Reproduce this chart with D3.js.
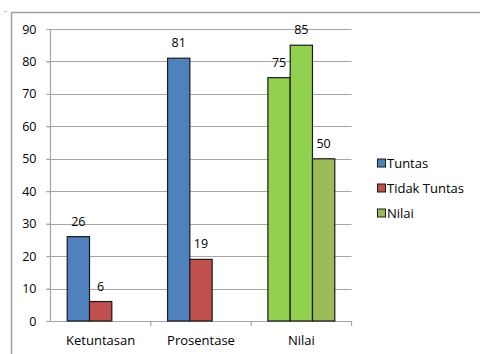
<!DOCTYPE html>
<html>
<head>
<meta charset="utf-8">
<script src="https://cdn.jsdelivr.net/npm/d3@7"></script>
<style>
  html, body { margin: 0; padding: 0; background: #fff; }
  svg { display: block; }
  text { font-family: "Open Sans", "Noto Sans", sans-serif; fill: #000; }
</style>
</head>
<body>
<svg id="chart" width="480" height="354"></svg>
<script>
// Categories and series
const categories = ["Ketuntasan", "Prosentase", "Nilai"];
const seriesNames = ["Tuntas", "Tidak Tuntas", "Nilai"];
const tuntas = [26, 81, 75];
const tidakTuntas = [6, 19, 85];
const nilai = [null, null, 50];
const yTicks = [0, 10, 20, 30, 40, 50, 60, 70, 80, 90];

const seriesValues = [tuntas, tidakTuntas, nilai];
const seriesColors = ["#4f81bd", "#c0504d", "#9bbb59"];
// Bars in the "Nilai" category are filled in bright green
const pointOverride = { "Nilai": { "Tuntas": "#92d050", "Tidak Tuntas": "#92d050" } };

const svg = d3.select("#chart");

// Outer chart frame (top and left edges visible)
svg.append("line").attr("x1", 11).attr("x2", 480).attr("y1", 12.5).attr("y2", 12.5)
  .attr("stroke", "#a0a0a0").attr("stroke-width", 1.5);
svg.append("line").attr("x1", 11.5).attr("x2", 11.5).attr("y1", 12).attr("y2", 354)
  .attr("stroke", "#a0a0a0").attr("stroke-width", 1.5);
svg.append("rect").attr("x", 4).attr("y", 11).attr("width", 3).attr("height", 1).attr("fill", "#bbb");

const plot = { left: 50.5, right: 351.5, top: 29, bottom: 321 };

const y = d3.scaleLinear().domain([0, 90]).range([plot.bottom, plot.top]);
const x0 = d3.scaleBand().domain(categories).range([plot.left, plot.right]).paddingInner(0).paddingOuter(0);
const x1 = d3.scaleBand().domain(seriesNames).range([0, x0.bandwidth()]).paddingInner(0).paddingOuter(0.75);

// Gridlines
svg.append("g").selectAll("line").data(yTicks.filter(d => d > 0)).join("line")
  .attr("x1", plot.left - 4).attr("x2", plot.right)
  .attr("y1", d => Math.round(y(d)) + 0.5).attr("y2", d => Math.round(y(d)) + 0.5)
  .attr("stroke", "#a6a6a6").attr("stroke-width", 1.2);

// Y axis
const yAxis = d3.axisLeft(y).tickValues(yTicks).tickSize(4).tickPadding(10);
const gy = svg.append("g").attr("transform", `translate(${plot.left},0)`).call(yAxis);
gy.select(".domain").attr("stroke", "#a6a6a6").attr("stroke-width", 1.2).attr("d", `M-0,${plot.top}V${plot.bottom}`);
gy.selectAll(".tick line").attr("stroke", "#a6a6a6").attr("stroke-width", 1.2);
gy.selectAll(".tick text").style("font-family", "'Open Sans', sans-serif").style("font-size", "12.5px").attr("fill", "#000");

// X axis with ticks at category boundaries
const gx = svg.append("g");
gx.append("line").attr("x1", plot.left - 4).attr("x2", plot.right)
  .attr("y1", plot.bottom + 0.5).attr("y2", plot.bottom + 0.5)
  .attr("stroke", "#a6a6a6").attr("stroke-width", 1.2);
gx.selectAll("line.tk").data(categories).join("line").attr("class", "tk")
  .attr("x1", d => x0(d) + x0.bandwidth()).attr("x2", d => x0(d) + x0.bandwidth())
  .attr("y1", plot.bottom).attr("y2", plot.bottom + 5)
  .attr("stroke", "#a6a6a6").attr("stroke-width", 1.2);
gx.selectAll("text").data(categories).join("text")
  .attr("x", d => x0(d) + x0.bandwidth() / 2).attr("y", 345)
  .attr("text-anchor", "middle").style("font-size", "13px").text(d => d);

// Bars
const barData = [];
categories.forEach((c, ci) => {
  seriesNames.forEach((s, si) => {
    const v = seriesValues[si][ci];
    if (v == null) return;
    const color = (pointOverride[c] && pointOverride[c][s]) || seriesColors[si];
    barData.push({ c, s, v, color });
  });
});

const bars = svg.append("g");
bars.selectAll("rect").data(barData).join("rect")
  .attr("x", d => x0(d.c) + x1(d.s))
  .attr("y", d => y(d.v))
  .attr("width", x1.bandwidth())
  .attr("height", d => y(0) - y(d.v))
  .attr("fill", d => d.color)
  .attr("stroke", "#1a1a1a").attr("stroke-width", 1.2);

bars.selectAll("text").data(barData).join("text")
  .attr("x", d => x0(d.c) + x1(d.s) + x1.bandwidth() / 2)
  .attr("y", d => y(d.v) - 11)
  .attr("text-anchor", "middle").style("font-size", "12.5px").text(d => d.v);

// Legend
const legend = svg.append("g");
seriesNames.forEach((s, i) => {
  const cy = 163 + i * 25;
  legend.append("rect").attr("x", 377.5).attr("y", cy - 4).attr("width", 8).attr("height", 8)
    .attr("fill", seriesColors[i]).attr("stroke", "#1a1a1a").attr("stroke-width", 1);
  legend.append("text").attr("x", 387).attr("y", cy + 4.5).style("font-size", "13px").text(s);
});
</script>
</body>
</html>
